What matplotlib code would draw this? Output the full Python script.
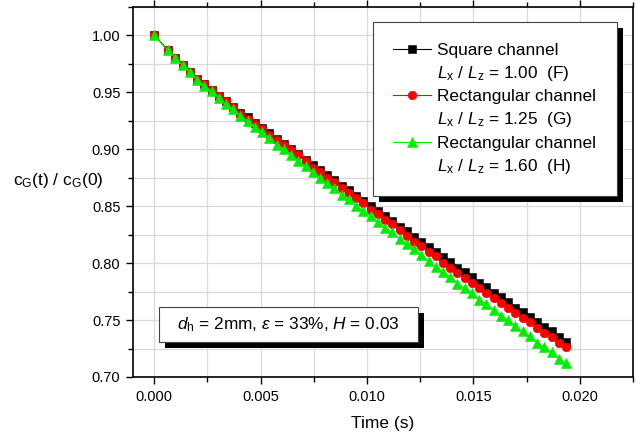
import matplotlib
matplotlib.use("Agg")
import matplotlib.pyplot as plt
from matplotlib.lines import Line2D
from matplotlib.patches import Rectangle
from matplotlib.ticker import MultipleLocator, FormatStrFormatter

plt.rcParams.update({
    "font.family": ["Liberation Sans", "DejaVu Sans"],
    "mathtext.fontset": "custom",
    "mathtext.rm": "Liberation Sans",
    "mathtext.it": "Liberation Sans:italic",
    "mathtext.bf": "Liberation Sans:bold",
})

# Sampling times (s)
time_s = [0.0, 0.00065, 0.00099, 0.00133, 0.00167, 0.00201, 0.00235, 0.00269,
          0.00303, 0.00337, 0.00371, 0.00405, 0.00439, 0.00473, 0.00507, 0.00541,
          0.00575, 0.00609, 0.00643, 0.00677, 0.00711, 0.00745, 0.00779, 0.00813,
          0.00847, 0.00881, 0.00915, 0.00949, 0.00983, 0.01017, 0.01051, 0.01085,
          0.01119, 0.01153, 0.01187, 0.01221, 0.01255, 0.01289, 0.01323, 0.01357,
          0.01391, 0.01425, 0.01459, 0.01493, 0.01527, 0.01561, 0.01595, 0.01629,
          0.01663, 0.01697, 0.01731, 0.01765, 0.01799, 0.01833, 0.01867, 0.01901,
          0.01935]

# Normalised gas concentration c_G(t)/c_G(0)
square_F = [1.000, 0.987, 0.980, 0.974, 0.968, 0.962, 0.957, 0.952, 0.947, 0.942,
            0.937, 0.932, 0.928, 0.923, 0.919, 0.914, 0.909, 0.905, 0.900, 0.896,
            0.891, 0.886, 0.882, 0.877, 0.873, 0.868, 0.864, 0.859, 0.855, 0.850,
            0.846, 0.841, 0.837, 0.832, 0.828, 0.823, 0.819, 0.814, 0.810, 0.805,
            0.801, 0.796, 0.792, 0.788, 0.783, 0.779, 0.774, 0.770, 0.766, 0.761,
            0.757, 0.753, 0.748, 0.744, 0.740, 0.735, 0.731]

rect_G = [1.000, 0.987, 0.980, 0.974, 0.968, 0.962, 0.957, 0.952, 0.947, 0.942,
          0.937, 0.931, 0.927, 0.922, 0.918, 0.913, 0.908, 0.904, 0.899, 0.895,
          0.890, 0.884, 0.880, 0.875, 0.871, 0.866, 0.862, 0.857, 0.853, 0.847,
          0.843, 0.838, 0.834, 0.829, 0.824, 0.819, 0.815, 0.810, 0.806, 0.800,
          0.796, 0.791, 0.787, 0.783, 0.778, 0.774, 0.769, 0.765, 0.761, 0.756,
          0.752, 0.748, 0.743, 0.739, 0.735, 0.730, 0.726]

rect_H = [1.000, 0.987, 0.980, 0.974, 0.968, 0.961, 0.956, 0.951, 0.945, 0.940,
          0.935, 0.929, 0.925, 0.920, 0.915, 0.910, 0.904, 0.900, 0.895, 0.890,
          0.885, 0.880, 0.875, 0.870, 0.866, 0.860, 0.856, 0.850, 0.846, 0.841,
          0.836, 0.831, 0.827, 0.821, 0.817, 0.812, 0.807, 0.802, 0.797, 0.792,
          0.788, 0.782, 0.778, 0.774, 0.768, 0.764, 0.759, 0.754, 0.750, 0.745,
          0.740, 0.736, 0.730, 0.726, 0.722, 0.716, 0.712]

legend_titles = ["Square channel", "Rectangular channel", "Rectangular channel"]
legend_ratios = [r"$L_\mathrm{x}$ / $L_\mathrm{z}$ = 1.00  (F)",
                 r"$L_\mathrm{x}$ / $L_\mathrm{z}$ = 1.25  (G)",
                 r"$L_\mathrm{x}$ / $L_\mathrm{z}$ = 1.60  (H)"]
note_text = r"$d_\mathrm{h}$ = 2mm, $\varepsilon$ = 33%, $H$ = 0.03"

fig = plt.figure(figsize=(6.36, 4.36), dpi=100)
ax = fig.add_axes([133 / 636, 59 / 436, 500 / 636, 370 / 436])

styles = [
    dict(color="black", marker="s", ms=5.4),
    dict(color="#ff0000", marker="o", ms=6.2),
    dict(color="#00ee00", marker="^", ms=6.8),
]
handles = []
for series, st, z in zip([square_F, rect_G, rect_H], styles, [3, 3.1, 3.2]):
    ln, = ax.plot(time_s, series, "-", color=st["color"], lw=0.8,
                  marker=st["marker"], ms=st["ms"], mfc=st["color"],
                  mec=st["color"], mew=0.4, zorder=z)
    handles.append(ln)

ax.set_xlim(-0.001, 0.0225)
ax.set_ylim(0.70, 1.025)
ax.xaxis.set_major_locator(MultipleLocator(0.005))
ax.xaxis.set_minor_locator(MultipleLocator(0.0025))
ax.yaxis.set_major_locator(MultipleLocator(0.05))
ax.yaxis.set_minor_locator(MultipleLocator(0.025))
ax.xaxis.set_major_formatter(FormatStrFormatter("%.3f"))
ax.yaxis.set_major_formatter(FormatStrFormatter("%.2f"))

ax.grid(which="both", color="#dadada", lw=0.9)
ax.set_axisbelow(True)
ax.tick_params(which="both", direction="out", top=True, right=False,
               labeltop=False, labelsize=10.5, width=1.0, color="black")
ax.tick_params(which="major", length=5, pad=4)
ax.tick_params(which="minor", length=3.5)
for s in ax.spines.values():
    s.set_linewidth(1.2)
    s.set_color("black")

ax.set_xlabel("Time (s)", fontsize=12.5)
ax.xaxis.set_label_coords(0.5, -0.125)
ax.xaxis.label.set_va("center")
ax.set_ylabel(r"c$_\mathrm{G}$(t) / c$_\mathrm{G}$(0)", fontsize=12.5,
              rotation=0, ha="center", va="center")
ax.yaxis.set_label_coords(-0.15, 0.53)

# Legend: title line with marker, ratio line without marker
blank = Line2D([], [], linestyle="none", marker="none")
leg_handles, leg_labels = [], []
for h, t, r in zip(handles, legend_titles, legend_ratios):
    leg_handles += [h, blank]
    leg_labels += [t, r]
leg = ax.legend(leg_handles, leg_labels, loc="upper right",
                bbox_to_anchor=(0.968, 0.9595), borderaxespad=0,
                fontsize=12.4, handlelength=2.2, handletextpad=0.35,
                labelspacing=0.36, borderpad=1.2, fancybox=False,
                framealpha=1, edgecolor="#444444")
leg.get_frame().set_linewidth(0.8)
leg.set_zorder(6)

# Parameter box with drop shadow
bx0, bx1, by0, by1 = 0.052, 0.570, 0.0946, 0.189
ax.add_patch(Rectangle((bx0 + 0.012, by0 - 0.015), bx1 - bx0, by1 - by0,
                       transform=ax.transAxes, facecolor="black",
                       edgecolor="none", zorder=4))
ax.add_patch(Rectangle((bx0, by0), bx1 - bx0, by1 - by0,
                       transform=ax.transAxes, facecolor="white",
                       edgecolor="#444444", lw=0.8, zorder=4.1))
ax.text((bx0 + bx1) / 2, (by0 + by1) / 2, note_text, transform=ax.transAxes,
        ha="center", va="center", fontsize=12.4, zorder=4.2)

# Drop shadow behind the legend frame
fig.canvas.draw()
fb = leg.get_frame().get_window_extent(fig.canvas.get_renderer())
fb = fb.transformed(ax.transAxes.inverted())
ax.add_patch(Rectangle((fb.x0 + 0.012, fb.y0 - 0.016), fb.width, fb.height,
                       transform=ax.transAxes, facecolor="black",
                       edgecolor="none", zorder=5.9))

fig.savefig("out.png", dpi=100)
